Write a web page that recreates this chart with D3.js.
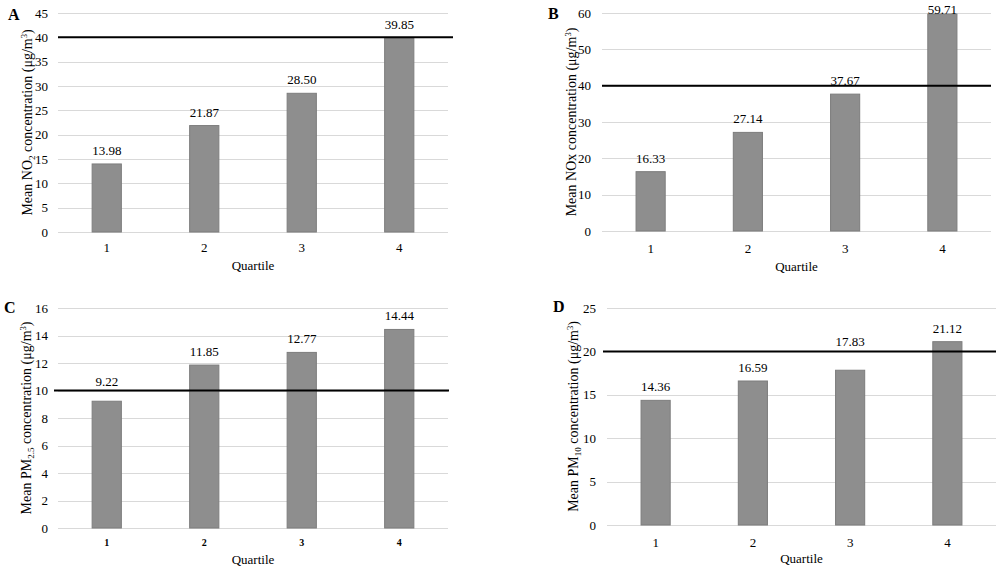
<!DOCTYPE html>
<html><head><meta charset="utf-8">
<script src="https://cdn.jsdelivr.net/npm/d3@7"></script>
<style>body{margin:0;background:#fff}svg{display:block;font-family:"Liberation Serif","Times New Roman",serif}</style>
</head><body>
<svg id="c" width="1000" height="571"></svg>
<script>
const quartiles = ["1","2","3","4"];
const no2Values = [13.98, 21.87, 28.50, 39.85];
const noxValues = [16.33, 27.14, 37.67, 59.71];
const pm25Values = [9.22, 11.85, 12.77, 14.44];
const pm10Values = [14.36, 16.59, 17.83, 21.12];
const no2Ticks = [0,5,10,15,20,25,30,35,40,45];
const noxTicks = [0,10,20,30,40,50,60];
const pm25Ticks = [0,2,4,6,8,10,12,14,16];
const pm10Ticks = [0,5,10,15,20,25];
const limits = [40, 40, 10, 20];
const panelLetters = ["A","B","C","D"];
const xTitle = "Quartile";

const svg = d3.select("#c");

const panels = [
  {values:no2Values, ticks:no2Ticks, limit:limits[0], x0:58, x1:448, y0:232, y1:13,
   sub:["Mean NO","2"," concentration (μg/m","3",")"], subMode:["n","sub","n","sup","n"],
   titleX:27, tickBase:252, xtFont:13, qBase:270, letterX:8, letterY:20, ylabRight:48, lineX0:58, lineX1:453},
  {values:noxValues, ticks:noxTicks, limit:limits[1], x0:602, x1:991, y0:231, y1:13,
   sub:["Mean NOx concentration (μg/m","3",")"], subMode:["n","sup","n"],
   titleX:571, tickBase:253, xtFont:13, qBase:271, letterX:548, letterY:19, ylabRight:591, lineX0:602, lineX1:991},
  {values:pm25Values, ticks:pm25Ticks, limit:limits[2], x0:58, x1:448, y0:528, y1:308,
   sub:["Mean PM","2.5"," concentration (μg/m","3",")"], subMode:["n","sub","n","sup","n"],
   titleX:26, tickBase:546, xtFont:10, qBase:564, letterX:4, letterY:313, ylabRight:48, lineX0:54, lineX1:449},
  {values:pm10Values, ticks:pm10Ticks, limit:limits[3], x0:607, x1:996, y0:525, y1:308,
   sub:["Mean PM","10"," concentration (μg/m","3",")"], subMode:["n","sub","n","sup","n"],
   titleX:573, tickBase:547, xtFont:13, qBase:563, letterX:553, letterY:312, ylabRight:596, lineX0:603, lineX1:996}
];

panels.forEach((p, idx) => {
  const g = svg.append("g");
  const x = d3.scaleBand().domain(quartiles).range([p.x0, p.x1]).paddingInner(0.69).paddingOuter(0.345);
  const y = d3.scaleLinear().domain([0, d3.max(p.ticks)]).range([p.y0, p.y1]);

  g.selectAll(".grid").data(p.ticks).enter().append("line")
    .attr("x1", p.x0).attr("x2", p.x1)
    .attr("y1", d => Math.round(y(d)) + 0.5).attr("y2", d => Math.round(y(d)) + 0.5)
    .attr("stroke", "#d9d9d9").attr("stroke-width", 1);

  g.selectAll(".yt").data(p.ticks).enter().append("text")
    .attr("x", p.ylabRight).attr("y", d => y(d)).attr("dy", "0.35em")
    .attr("text-anchor", "end").attr("font-size", 13).attr("fill", "#000")
    .text(d => d);

  g.selectAll(".bar").data(p.values).enter().append("rect")
    .attr("x", (d, i) => x(quartiles[i]) + 0.5)
    .attr("y", d => y(d))
    .attr("width", x.bandwidth() - 1)
    .attr("height", d => y(0) - y(d))
    .attr("fill", "#8e8e8e").attr("stroke", "#7d7d7d").attr("stroke-width", 1);

  const ly = y(p.limit);
  g.append("line").attr("x1", p.lineX0).attr("x2", p.lineX1)
    .attr("y1", ly).attr("y2", ly).attr("stroke", "#000").attr("stroke-width", 2);

  g.selectAll(".vl").data(p.values).enter().append("text")
    .attr("x", (d, i) => x(quartiles[i]) + x.bandwidth() / 2)
    .attr("y", d => {
      let base = y(d) - 9;
      if (y(d) > ly && base > ly && base - 10 < ly) base = ly - 5;
      return Math.max(base, p.y1 + 1);
    })
    .attr("text-anchor", "middle").attr("font-size", 13).attr("fill", "#000")
    .text(d => d.toFixed(2));

  g.selectAll(".xt").data(quartiles).enter().append("text")
    .attr("x", d => x(d) + x.bandwidth() / 2).attr("y", p.tickBase)
    .attr("text-anchor", "middle").attr("font-size", p.xtFont)
    .attr("font-weight", p.xtFont < 12 ? "bold" : "normal").attr("fill", "#000")
    .text(d => d);

  g.append("text").attr("x", (p.x0 + p.x1) / 2).attr("y", p.qBase)
    .attr("text-anchor", "middle").attr("font-size", 13).text(xTitle);

  const cy = (p.y0 + p.y1) / 2;
  const yt = g.append("text")
    .attr("transform", `translate(${p.titleX},${cy}) rotate(-90)`)
    .attr("text-anchor", "middle").attr("dy", "0.35em").attr("font-size", 14);
  p.sub.forEach((s, i) => {
    const m = p.subMode[i];
    const ts = yt.append("tspan").text(s);
    if (m === "sub") { ts.attr("font-size", 9).attr("dy", 3); }
    else if (m === "sup") { ts.attr("font-size", 8.5).attr("dy", -5); }
    else if (i > 0 && p.subMode[i-1] === "sub") { ts.attr("dy", -3); }
    else if (i > 0 && p.subMode[i-1] === "sup") { ts.attr("dy", 5); }
  });

  g.append("text").attr("x", p.letterX).attr("y", p.letterY)
    .attr("font-size", 16).attr("font-weight", "bold").text(panelLetters[idx]);
});
</script>
</body></html>
